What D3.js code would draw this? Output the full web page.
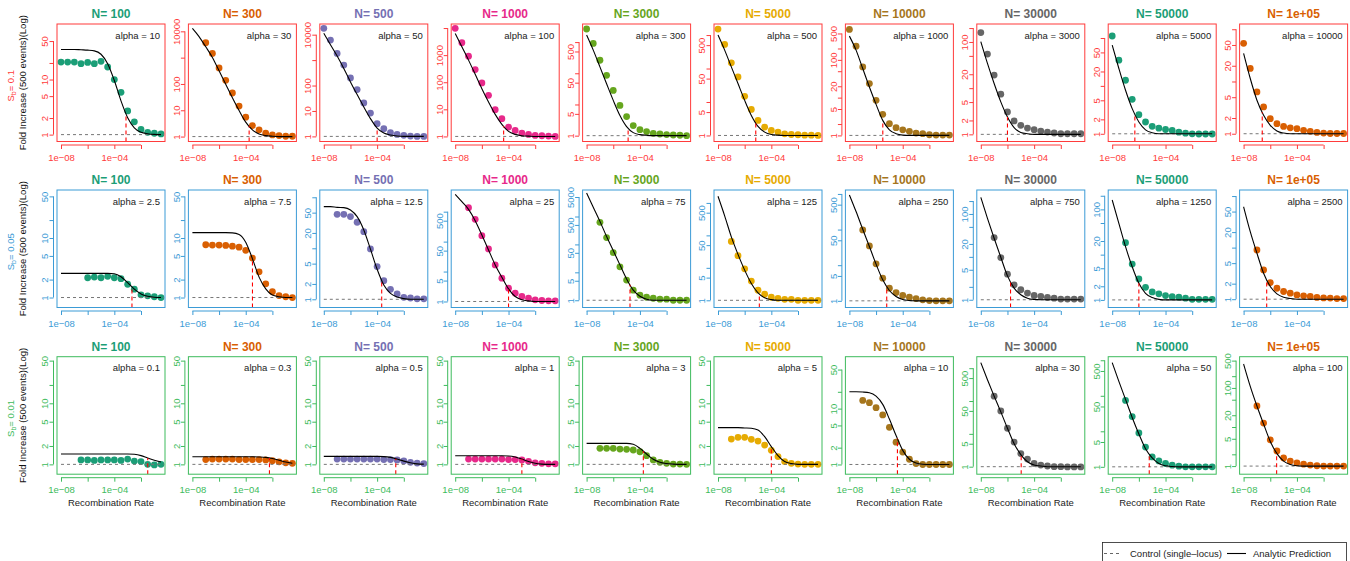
<!DOCTYPE html>
<html>
<head>
<meta charset="utf-8">
<script src="https://cdn.jsdelivr.net/npm/d3@7"></script>
<style>
  body { margin: 0; background: #fff; }
  svg { font-family: "Liberation Sans", Arial, sans-serif; }
</style>
</head>
<body>
<svg id="chart" width="1350" height="561"></svg>
<script>
// ---- data ----
const popSizes = ['100', '300', '500', '1000', '3000', '5000', '10000', '30000', '50000', '1e+05'];
const selCoefs = ['0.1', '0.05', '0.01'];

const alphaS01 = [10, 30, 50, 100, 300, 500, 1000, 3000, 5000, 10000];
const alphaS005 = [2.5, 7.5, 12.5, 25, 75, 125, 250, 750, 1250, 2500];
const alphaS001 = [0.1, 0.3, 0.5, 1, 3, 5, 10, 30, 50, 100];

// recombination rates of the simulated points (half-decade steps)
const rates = [1e-8, 3.16e-8, 1e-7, 3.16e-7, 1e-6, 3.16e-6, 1e-5, 3.16e-5,
               1e-4, 3.16e-4, 1e-3, 3.16e-3, 1e-2, 3.16e-2, 1e-1, 3.16e-1];
const xTicks = [1e-8, 1e-6, 1e-4, 1e-2];
const xTickLabels = ['1e\u221208', '', '1e\u221204', ''];

// simulated fold increase, Sb = 0.1
const simS01 = [
  [20.8, 20.8, 20.8, 19.4, 20.5, 19.4, 21.4, 16.9, 10, 5.85, 2.69, 1.71, 1.24, 1.10, 1.06, 1.03],
  [null, null, 3690, 1443, 408, 138, 45.3, 14.4, 5.48, 2.63, 1.80, 1.34, 1.16, 1.09, 1.03, 1.03],
  [17800, 6150, 1830, 635, 200, 69.6, 20.7, 8.3, 3.16, 2.0, 1.40, 1.2, 1.1, 1.03, 1.0, 1.0],
  [9730, 2860, 919, 294, 94.4, 33, 9.7, 4.51, 2.22, 1.67, 1.33, 1.19, 1.09, 1.06, 1.03, 1.0],
  [2630, 906, 262, 86, 28.3, 9.3, 4.1, 2.1, 1.56, 1.35, 1.19, 1.13, 1.08, 1.05, 1.03, 1.0],
  [1510, 525, 148, 56, 14.8, 6.0, 2.82, 1.78, 1.41, 1.26, 1.12, 1.07, 1.05, 1.02, 1.02, 1.0],
  [638, 231, 65, 23.5, 8.5, 3.61, 2.04, 1.6, 1.41, 1.28, 1.15, 1.11, 1.04, 1.02, 1.02, 1.02],
  [160, 54.8, 19.2, 7.4, 3.06, 1.95, 1.57, 1.37, 1.26, 1.18, 1.12, 1.07, 1.03, 1.03, 1.03, 1.03],
  [110, 34.5, 13.1, 5.25, 2.5, 1.76, 1.43, 1.31, 1.23, 1.17, 1.08, 1.03, 1.0, 0.99, 0.99, 0.99],
  [53.8, 17.8, 6.3, 3.26, 1.94, 1.56, 1.38, 1.30, 1.25, 1.16, 1.11, 1.06, 1.03, 1.01, 1.01, 1.01]
];
// analytic prediction, Sb = 0.1
const predS01 = [
  [35.2, 35.2, 35.2, 34.7, 34.2, 33.2, 28.8, 19.4, 9.6, 4.1, 2.03, 1.33, 1.10, 1.04, 1.01, 1.0],
  [12900, 6290, 2590, 1020, 315, 97, 30, 9.8, 3.53, 1.8, 1.26, 1.09, 1.03, 1, 1, 1],
  [11300, 4000, 1440, 468, 139, 44, 14.4, 5.0, 2.13, 1.35, 1.13, 1.03, 1, 1, 1, 1],
  [6330, 2030, 655, 197, 58, 18.7, 6.5, 2.78, 1.53, 1.19, 1.06, 1.03, 1, 1, 1, 1],
  [1680, 552, 160, 46, 13.5, 4.42, 1.95, 1.25, 1.08, 1.03, 1, 1, 1, 1, 1, 1],
  [1000, 355, 112, 35.5, 11.2, 3.98, 1.86, 1.26, 1.07, 1.02, 1, 1, 1, 1, 1, 1],
  [425, 181, 59, 19.2, 6.65, 2.5, 1.41, 1.11, 1.02, 1, 1, 1, 1, 1, 1, 1],
  [102, 34.4, 12.6, 5.05, 2.38, 1.4, 1.10, 1.03, 1, 1, 1, 1, 1, 1, 1, 1],
  [71, 23.1, 8.1, 3.35, 1.76, 1.21, 1.05, 1, 1, 1, 1, 1, 1, 1, 1, 1],
  [34.5, 11.4, 4.38, 2.25, 1.45, 1.13, 1.03, 1, 1, 1, 1, 1, 1, 1, 1, 1]
];
const cutS01 = [7.5e-4, 1.8e-4, 1e-4, 4.3e-5, 1.3e-5, 6.8e-6, 3.2e-6, 1e-6, 5e-7, 2.5e-7];
const rangeS01 = [[0.75, 102], [0.65, 19000], [0.63, 26300], [0.65, 14100], [0.65, 3800],
                  [0.66, 2140], [0.69, 890], [0.70, 245], [0.69, 196], [0.71, 126]];
const ticksS01 = [[1, 2, 5, 10, 20, 50], [1, 10, 100, 1000, 10000], [1, 10, 100, 1000, 10000],
                  [1, 10, 100, 1000, 10000], [1, 5, 10, 50, 100, 500, 1000], [1, 5, 10, 50, 100, 500, 1000],
                  [1, 2, 5, 10, 20, 50, 100, 200, 500], [1, 2, 5, 10, 20, 50, 100, 200],
                  [1, 2, 5, 10, 20, 50, 100], [1, 2, 5, 10, 20, 50, 100]];
const labelsS01 = [[1, 2, 5, 10, 50], [1, 10, 100, 10000], [1, 10, 100, 10000], [1, 10, 100, 1000],
                   [1, 5, 50, 500], [1, 5, 50, 500], [1, 5, 20, 100, 500], [1, 2, 5, 20, 100],
                   [1, 2, 5, 20, 50], [1, 2, 5, 20, 50]];

// Sb = 0.05
const simS005 = [
  [null, null, null, null, 2.15, 2.21, 2.15, 2.27, 2.15, 2.07, 1.67, 1.38, 1.11, 1.07, 1.03, 1.0],
  [null, null, 7.7, 7.6, 7.6, 7.5, 7.3, 7.0, 6.2, 4.6, 2.7, 1.7, 1.25, 1.08, 1.03, 1.0],
  [null, null, 46.4, 46.4, 41.8, 32.4, 21.2, 9.7, 4.37, 2.32, 1.57, 1.27, 1.09, 1.06, 1.02, 1.02],
  [null, null, 1360, 555, 158, 57, 16.7, 6.0, 2.78, 1.9, 1.47, 1.29, 1.14, 1.08, 1.05, 1.05],
  [null, null, 617, 176, 50.6, 15.7, 5.3, 2.3, 1.52, 1.28, 1.18, 1.09, 1.09, 1.0, 1.0, 1.0],
  [null, null, 65, 23.7, 9.3, 3.9, 2.05, 1.54, 1.24, 1.15, 1.07, 1.07, 1.0, 1.0, 1.0, 1.0],
  [null, null, 98, 34.8, 10.9, 4.32, 2.27, 1.71, 1.41, 1.27, 1.16, 1.07, 1.02, 1.0, 1.0, 1.0],
  [null, null, 28.2, 9.65, 3.95, 2.23, 1.71, 1.43, 1.26, 1.2, 1.13, 1.09, 1.04, 1.04, 1.04, 1.04],
  [null, null, 18.4, 6.2, 2.9, 1.9, 1.5, 1.36, 1.25, 1.18, 1.15, 1.09, 1.03, 1.03, 1.03, 1.03],
  [null, null, 9.0, 3.7, 2.1, 1.63, 1.41, 1.31, 1.21, 1.16, 1.13, 1.08, 1.06, 1.05, 1.03, 1.03]
];
const predS005 = [
  [2.55, 2.55, 2.55, 2.55, 2.55, 2.55, 2.55, 2.55, 2.51, 2.24, 1.78, 1.38, 1.15, 1.05, 1.01, 1.0],
  [12.3, 12.3, 12.3, 12.3, 12.3, 12.3, 12.2, 11.5, 8.5, 4.5, 2.2, 1.4, 1.1, 1.03, 1.0, 1.0],
  [65.6, 65.6, 63.5, 62.7, 56.4, 41.8, 22.9, 9.6, 3.87, 1.91, 1.31, 1.11, 1.03, 1, 1, 1],
  [3780, 2150, 1200, 501, 167, 52.7, 16.7, 6.47, 2.64, 1.47, 1.14, 1.05, 1, 1, 1, 1],
  [6900, 2150, 670, 192, 60, 18.5, 5.8, 2.3, 1.4, 1.09, 1, 1, 1, 1, 1, 1],
  [1600, 400, 90, 26, 8.5, 3.3, 1.7, 1.2, 1.05, 1, 1, 1, 1, 1, 1, 1],
  [938, 320, 102, 33.4, 10.7, 3.88, 1.95, 1.32, 1.09, 1.02, 1, 1, 1, 1, 1, 1],
  [244, 79, 27.2, 9.8, 3.61, 1.87, 1.31, 1.09, 1.02, 1, 1, 1, 1, 1, 1, 1],
  [161, 49, 15, 5.4, 2.33, 1.4, 1.13, 1.03, 1, 1, 1, 1, 1, 1, 1, 1],
  [62, 20.4, 7.8, 3.19, 1.76, 1.27, 1.09, 1.03, 1, 1, 1, 1, 1, 1, 1, 1]
];
const cutS005 = [2.1e-3, 3.2e-4, 2.2e-4, 1e-4, 1.8e-5, 1.26e-5, 6.3e-6, 1.7e-6, 1e-6, 5.4e-7];
const rangeS005 = [[0.68, 64], [0.68, 64], [0.69, 139], [0.63, 5300], [0.55, 8900],
                   [0.6, 2500], [0.65, 1290], [0.66, 362], [0.68, 268], [0.69, 131]];
const ticksS005 = [[1, 2, 5, 10, 20, 50], [1, 2, 5, 10, 20, 50], [1, 2, 5, 10, 20, 50, 100],
                   [1, 5, 10, 50, 100, 500, 1000], [1, 5, 10, 50, 100, 500, 1000, 5000],
                   [1, 5, 10, 50, 100, 500, 1000], [1, 5, 10, 50, 100, 500, 1000],
                   [1, 2, 5, 10, 20, 50, 100, 200], [1, 2, 5, 10, 20, 50, 100, 200],
                   [1, 2, 5, 10, 20, 50, 100]];
const labelsS005 = [[1, 2, 5, 10, 50], [1, 2, 5, 10, 50], [1, 2, 5, 20, 50], [1, 5, 50, 500],
                    [1, 5, 50, 500, 5000], [1, 5, 50, 500], [1, 5, 50, 500], [1, 5, 20, 100],
                    [1, 2, 5, 20, 100], [1, 2, 5, 20, 50]];

// Sb = 0.01
const simS001 = [
  [null, null, null, 1.18, 1.18, 1.16, 1.18, 1.18, 1.18, 1.16, 1.22, 1.13, 1.11, 1.0, 0.98, 1.0],
  [null, null, 1.2, 1.22, 1.22, 1.22, 1.22, 1.2, 1.2, 1.2, 1.2, 1.18, 1.15, 1.1, 1.06, 1.04],
  [null, null, 1.22, 1.22, 1.22, 1.22, 1.22, 1.22, 1.22, 1.2, 1.2, 1.18, 1.14, 1.08, 1.05, 1.03],
  [null, null, 1.22, 1.22, 1.22, 1.22, 1.22, 1.22, 1.2, 1.2, 1.18, 1.12, 1.06, 1.04, 1.02, 1.02],
  [null, null, 1.83, 1.83, 1.83, 1.78, 1.76, 1.72, 1.61, 1.39, 1.18, 1.08, 1.04, 1.01, 1.01, 1.0],
  [null, null, 2.6, 2.77, 2.77, 2.57, 2.41, 2.07, 1.7, 1.34, 1.11, 1.04, 1.01, 1.0, 1.0, 1.0],
  [null, null, 14, 12.8, 10.4, 7.7, 4.62, 2.51, 1.67, 1.24, 1.04, 1, 1, 1, 1, 1],
  [null, null, 141, 50, 14.8, 5.6, 2.51, 1.7, 1.26, 1.12, 1.05, 1.0, 1.0, 0.98, 0.98, 0.98],
  [null, null, 74, 26, 9.0, 3.59, 1.9, 1.47, 1.24, 1.11, 1.04, 1.0, 1.0, 1.0, 1.0, 1.0],
  [null, null, 34.5, 12.6, 4.7, 2.44, 1.62, 1.34, 1.21, 1.12, 1.06, 1.02, 1.0, 1.0, 1.0, 1.0]
];
const predS001 = [
  [1.48, 1.48, 1.48, 1.48, 1.48, 1.48, 1.48, 1.48, 1.48, 1.48, 1.48, 1.46, 1.39, 1.27, 1.17, 1.09],
  [1.33, 1.33, 1.33, 1.33, 1.33, 1.33, 1.33, 1.33, 1.33, 1.33, 1.32, 1.3, 1.25, 1.17, 1.09, 1.04],
  [1.35, 1.35, 1.35, 1.35, 1.35, 1.35, 1.35, 1.35, 1.35, 1.34, 1.3, 1.22, 1.13, 1.06, 1.02, 1.01],
  [1.38, 1.38, 1.38, 1.38, 1.38, 1.38, 1.38, 1.38, 1.37, 1.32, 1.22, 1.11, 1.04, 1.01, 1, 1],
  [2.21, 2.21, 2.21, 2.21, 2.21, 2.21, 2.21, 2.13, 1.83, 1.48, 1.21, 1.08, 1.03, 1.01, 1, 1],
  [3.99, 3.99, 3.99, 3.99, 3.95, 3.9, 3.65, 2.84, 1.95, 1.39, 1.11, 1.03, 1, 1, 1, 1],
  [20, 20, 19.8, 19.2, 16.7, 11.9, 6.5, 3.3, 1.79, 1.24, 1.06, 1.01, 1, 1, 1, 1],
  [1480, 447, 141, 46.8, 14.8, 5.0, 2.34, 1.41, 1.12, 1.05, 1, 1, 1, 1, 1, 1],
  [861, 255, 79, 24.5, 8.4, 3.23, 1.78, 1.24, 1.07, 1.02, 1, 1, 1, 1, 1, 1],
  [410, 110, 34.5, 11.9, 4.27, 2.09, 1.34, 1.1, 1.02, 1, 1, 1, 1, 1, 1, 1]
];
const cutS001 = [0.032, 6e-3, 2.5e-3, 1e-3, 1.8e-4, 1e-4, 4e-5, 1.07e-5, 6e-6, 3e-6];
const rangeS001 = [[0.69, 58], [0.69, 58], [0.69, 58], [0.69, 58], [0.69, 58],
                   [0.69, 58], [0.67, 85], [0.59, 2240], [0.62, 1260], [0.62, 630]];
const ticksS001 = [[1, 2, 5, 10, 20, 50], [1, 2, 5, 10, 20, 50], [1, 2, 5, 10, 20, 50],
                   [1, 2, 5, 10, 20, 50], [1, 2, 5, 10, 20, 50], [1, 2, 5, 10, 20, 50],
                   [1, 2, 5, 10, 20, 50], [1, 5, 10, 50, 100, 500, 1000],
                   [1, 5, 10, 50, 100, 500, 1000], [1, 2, 5, 10, 20, 50, 100, 200, 500]];
const labelsS001 = [[1, 2, 5, 10, 50], [1, 2, 5, 10, 50], [1, 2, 5, 10, 50], [1, 2, 5, 10, 50],
                    [1, 2, 5, 10, 50], [1, 2, 5, 10, 50], [1, 2, 5, 10, 50], [1, 5, 50, 500],
                    [1, 5, 50, 500], [1, 5, 20, 100, 500]];

// ---- layout ----
const svg = d3.select('#chart');
const boxW = 108, boxH = 117.5;
const colStep = 131.4, firstLeft = 57;
const rowTop = [24, 190, 356.7];
const rowColor = ['#ff3b3b', '#3b9bd6', '#3dbb5c'];
const nColor = d3.schemeDark2;
const fontSize = 9.5;

const rows = [
  { alpha: alphaS01, sim: simS01, pred: predS01, cut: cutS01, range: rangeS01, ticks: ticksS01, labels: labelsS01 },
  { alpha: alphaS005, sim: simS005, pred: predS005, cut: cutS005, range: rangeS005, ticks: ticksS005, labels: labelsS005 },
  { alpha: alphaS001, sim: simS001, pred: predS001, cut: cutS001, range: rangeS001, ticks: ticksS001, labels: labelsS001 }
];

const logRates = rates.map(Math.log10);

// value of the analytic curve at rate r (straight in log-log between read points)
function predAt(pred, r) {
  const lr = Math.log10(r);
  let i = d3.bisectRight(logRates, lr) - 1;
  i = Math.max(0, Math.min(i, logRates.length - 2));
  const t = (lr - logRates[i]) / (logRates[i + 1] - logRates[i]);
  const a = Math.log10(pred[i]), b = Math.log10(pred[i + 1]);
  return Math.pow(10, a + t * (b - a));
}

rows.forEach((row, r) => {
  const top = rowTop[r];
  const bottom = top + boxH;
  const color = rowColor[r];

  popSizes.forEach((n, c) => {
    const left = firstLeft + c * colStep;
    const x = d3.scaleLog().domain([Math.pow(10, -8.3), Math.pow(10, -0.2)]).range([left, left + boxW]);
    const y = d3.scaleLog().domain(row.range[c]).range([bottom, top]);
    const g = svg.append('g');

    const clipId = `clip-${r}-${c}`;
    g.append('clipPath').attr('id', clipId)
      .append('rect').attr('x', left).attr('y', top).attr('width', boxW).attr('height', boxH);
    const plot = g.append('g').attr('clip-path', `url(#${clipId})`);

    // simulated points
    const pts = rates.map((rate, i) => ({ rate, v: row.sim[c][i] })).filter(d => d.v != null);
    plot.selectAll('circle').data(pts).enter().append('circle')
      .attr('cx', d => x(d.rate))
      .attr('cy', d => y(d.v))
      .attr('r', 3.4)
      .attr('fill', nColor[c % 8]);

    // control (single-locus) level
    plot.append('line')
      .attr('x1', x(1e-8)).attr('x2', x(0.5))
      .attr('y1', y(1)).attr('y2', y(1))
      .attr('stroke', '#777').attr('stroke-width', 1).attr('stroke-dasharray', '3,3');

    // analytic prediction
    const line = d3.line()
      .x((d, i) => x(rates[i]))
      .y(d => y(d))
      .curve(d3.curveMonotoneX);
    plot.append('path')
      .attr('d', line(row.pred[c]))
      .attr('fill', 'none').attr('stroke', '#000').attr('stroke-width', 1.1);

    // threshold marker
    const cut = row.cut[c];
    plot.append('line')
      .attr('x1', x(cut)).attr('x2', x(cut))
      .attr('y1', bottom).attr('y2', y(predAt(row.pred[c], cut)))
      .attr('stroke', '#ff0000').attr('stroke-width', 1.1).attr('stroke-dasharray', '4,3');

    // frame
    g.append('rect')
      .attr('x', left).attr('y', top).attr('width', boxW).attr('height', boxH)
      .attr('fill', 'none').attr('stroke', color).attr('stroke-width', 1);

    // x axis
    const xAxis = d3.axisBottom(x).tickValues(xTicks)
      .tickFormat((d, i) => xTickLabels[i]).tickSize(4).tickPadding(5);
    const xg = g.append('g').attr('transform', `translate(0,${bottom + 3.5})`).call(xAxis);
    xg.select('.domain').remove();
    xg.append('line').attr('x1', x(xTicks[0])).attr('x2', x(xTicks[xTicks.length - 1]));
    xg.selectAll('line').attr('stroke', color);
    xg.selectAll('text').attr('fill', color).attr('font-size', fontSize)
      .attr('font-family', '"Liberation Sans", Arial, sans-serif');

    // y axis
    const [lo, hi] = row.range[c];
    const yt = row.ticks[c].filter(v => v >= lo && v <= hi);
    const yAxis = d3.axisLeft(y).tickValues(yt)
      .tickFormat(v => row.labels[c].includes(v) ? String(v) : '').tickSize(4);
    const yg = g.append('g').attr('transform', `translate(${left - 3.5},0)`).call(yAxis);
    yg.select('.domain').remove();
    yg.append('line').attr('y1', y(yt[0])).attr('y2', y(yt[yt.length - 1]));
    yg.selectAll('line').attr('stroke', color);
    yg.selectAll('text')
      .attr('transform', 'rotate(-90)')
      .attr('text-anchor', 'middle')
      .attr('x', 0).attr('y', -5.1).attr('dy', 0)
      .attr('fill', color).attr('font-size', fontSize)
      .attr('font-family', '"Liberation Sans", Arial, sans-serif');

    // panel title
    g.append('text')
      .attr('x', left + boxW / 2).attr('y', top - 6)
      .attr('text-anchor', 'middle')
      .attr('font-size', 12).attr('font-weight', 'bold')
      .attr('fill', nColor[c % 8])
      .text(`N= ${n}`);

    // alpha annotation
    g.append('text')
      .attr('x', left + boxW - 5).attr('y', top + 14.5)
      .attr('text-anchor', 'end')
      .attr('font-size', fontSize).attr('fill', '#222')
      .text(`alpha = ${row.alpha[c]}`);

    if (r === 2) {
      g.append('text')
        .attr('x', left + boxW / 2).attr('y', bottom + 31.5)
        .attr('text-anchor', 'middle')
        .attr('font-size', fontSize).attr('fill', '#222')
        .text('Recombination Rate');
    }
  });

  // row labels
  const mid = top + boxH / 2;
  svg.append('text')
    .attr('transform', `translate(25.5,${mid}) rotate(-90)`)
    .attr('text-anchor', 'middle')
    .attr('font-size', fontSize).attr('fill', '#111')
    .text('Fold Increase (500 events)(Log)');

  const s = svg.append('text')
    .attr('transform', `translate(13.5,${mid + 3}) rotate(-90)`)
    .attr('text-anchor', 'middle')
    .attr('font-size', fontSize).attr('fill', color);
  s.append('tspan').text('S');
  s.append('tspan').attr('font-size', 7).attr('dy', 2).text('b');
  s.append('tspan').attr('dy', -2).text(`= ${selCoefs[r]}`);
});

// legend
const legend = svg.append('g');
legend.append('rect')
  .attr('x', 1102.5).attr('y', 542.5).attr('width', 244).attr('height', 30)
  .attr('fill', 'none').attr('stroke', '#222').attr('stroke-width', 0.8);
legend.append('line')
  .attr('x1', 1104).attr('x2', 1119).attr('y1', 553.5).attr('y2', 553.5)
  .attr('stroke', '#666').attr('stroke-dasharray', '3,3');
legend.append('text')
  .attr('x', 1130).attr('y', 557)
  .attr('font-size', fontSize).attr('fill', '#222')
  .text('Control (single\u2013locus)');
legend.append('line')
  .attr('x1', 1227).attr('x2', 1246).attr('y1', 553.5).attr('y2', 553.5)
  .attr('stroke', '#000').attr('stroke-width', 1.1);
legend.append('text')
  .attr('x', 1253).attr('y', 557)
  .attr('font-size', fontSize).attr('fill', '#222')
  .text('Analytic Prediction');
</script>
</body>
</html>
